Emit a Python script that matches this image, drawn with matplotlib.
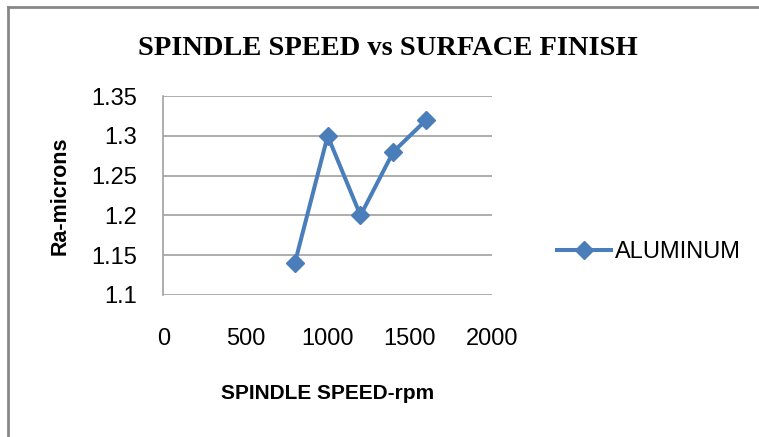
import matplotlib
matplotlib.use("Agg")
import matplotlib.pyplot as plt
from matplotlib.lines import Line2D
from matplotlib.ticker import FuncFormatter

# data
spindle_speed = [800, 1000, 1200, 1400, 1600]
ra_aluminum = [1.14, 1.30, 1.20, 1.28, 1.32]
series_name = "ALUMINUM"
x_ticks = [0, 500, 1000, 1500, 2000]
y_ticks = [1.10, 1.15, 1.20, 1.25, 1.30, 1.35]

blue = "#4a7ebb"
grid_grey = "#a0a0a0"
sans = "Liberation Sans"

fig = plt.figure(figsize=(7.59, 4.37), dpi=100)
ax = fig.add_axes([0.2154, 0.325, 0.4326, 0.455])

ax.plot(spindle_speed, ra_aluminum, color=blue, lw=2.9, marker="D",
        markersize=9, label=series_name)

ax.set_xlim(x_ticks[0], x_ticks[-1])
ax.set_ylim(y_ticks[0], y_ticks[-1])
ax.set_xticks(x_ticks)
ax.set_yticks(y_ticks)
ax.yaxis.set_major_formatter(FuncFormatter(lambda v, p: "%g" % round(v, 2)))
ax.grid(axis="y", color=grid_grey, lw=1.2)
ax.set_axisbelow(True)
for s in ["top", "right", "bottom"]:
    ax.spines[s].set_visible(False)
ax.spines["left"].set_color(grid_grey)
ax.spines["left"].set_linewidth(1.2)
ax.tick_params(length=0, labelsize=17)
ax.tick_params(axis="y", pad=19)
ax.tick_params(axis="x", pad=24)
for lab in ax.get_xticklabels() + ax.get_yticklabels():
    lab.set_fontfamily(sans)

ax.set_xlabel("SPINDLE SPEED-rpm", fontsize=15, fontweight="bold",
              family=sans, labelpad=24)
ax.set_ylabel("Ra-microns", fontsize=15.5, fontweight="bold",
              family=sans, labelpad=15)

fig.text(0.511, 0.89, "SPINDLE SPEED vs SURFACE FINISH", ha="center",
         va="center", fontsize=20.5, fontweight="bold", family="Liberation Serif")

leg = ax.legend(loc="center left", bbox_to_anchor=(557 / 759, 1 - 252 / 437),
                bbox_transform=fig.transFigure, frameon=False, borderpad=0,
                borderaxespad=0, handlelength=2.3, handletextpad=0.15,
                prop={"family": sans, "size": 17})

# outer chart frame (only top and left edges show in the crop)
fig.add_artist(Line2D([7.5 / 759, 7.5 / 759], [0, 1 - 7 / 437],
                      transform=fig.transFigure, color="#888888", lw=2))
fig.add_artist(Line2D([7.5 / 759, 1], [1 - 7 / 437, 1 - 7 / 437],
                      transform=fig.transFigure, color="#888888", lw=2))

fig.savefig("out.png", dpi=100)
